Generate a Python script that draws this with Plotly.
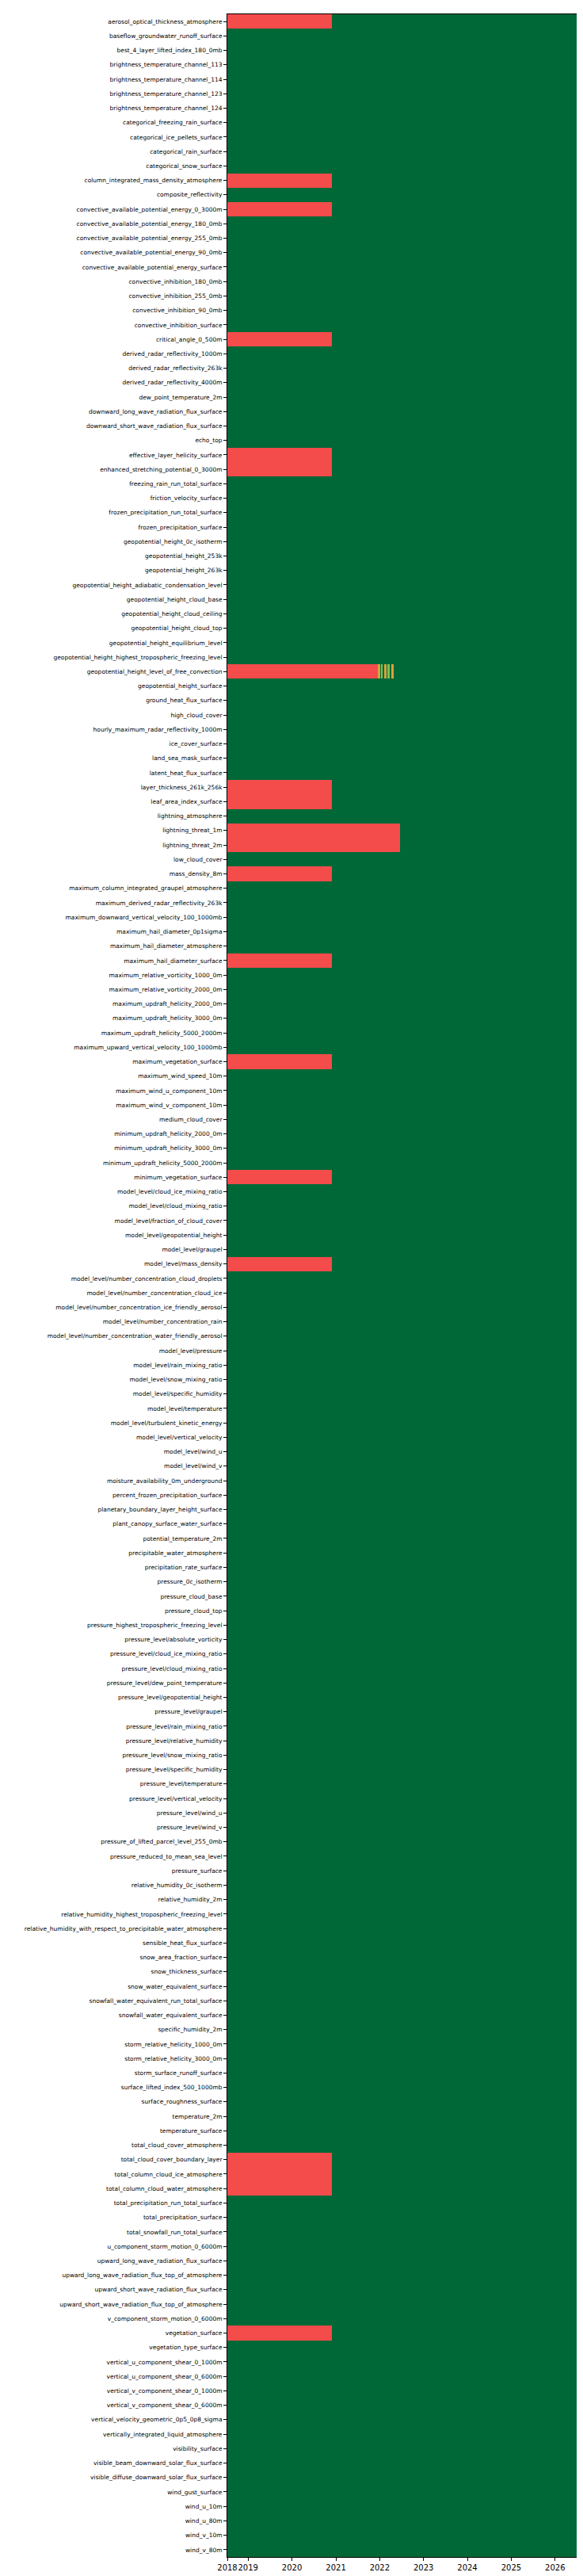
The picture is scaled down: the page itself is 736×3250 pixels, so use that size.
import pandas as pd
import plotly.graph_objects as go

variables = [
    "aerosol_optical_thickness_atmosphere",
    "baseflow_groundwater_runoff_surface",
    "best_4_layer_lifted_index_180_0mb",
    "brightness_temperature_channel_113",
    "brightness_temperature_channel_114",
    "brightness_temperature_channel_123",
    "brightness_temperature_channel_124",
    "categorical_freezing_rain_surface",
    "categorical_ice_pellets_surface",
    "categorical_rain_surface",
    "categorical_snow_surface",
    "column_integrated_mass_density_atmosphere",
    "composite_reflectivity",
    "convective_available_potential_energy_0_3000m",
    "convective_available_potential_energy_180_0mb",
    "convective_available_potential_energy_255_0mb",
    "convective_available_potential_energy_90_0mb",
    "convective_available_potential_energy_surface",
    "convective_inhibition_180_0mb",
    "convective_inhibition_255_0mb",
    "convective_inhibition_90_0mb",
    "convective_inhibition_surface",
    "critical_angle_0_500m",
    "derived_radar_reflectivity_1000m",
    "derived_radar_reflectivity_263k",
    "derived_radar_reflectivity_4000m",
    "dew_point_temperature_2m",
    "downward_long_wave_radiation_flux_surface",
    "downward_short_wave_radiation_flux_surface",
    "echo_top",
    "effective_layer_helicity_surface",
    "enhanced_stretching_potential_0_3000m",
    "freezing_rain_run_total_surface",
    "friction_velocity_surface",
    "frozen_precipitation_run_total_surface",
    "frozen_precipitation_surface",
    "geopotential_height_0c_isotherm",
    "geopotential_height_253k",
    "geopotential_height_263k",
    "geopotential_height_adiabatic_condensation_level",
    "geopotential_height_cloud_base",
    "geopotential_height_cloud_ceiling",
    "geopotential_height_cloud_top",
    "geopotential_height_equilibrium_level",
    "geopotential_height_highest_tropospheric_freezing_level",
    "geopotential_height_level_of_free_convection",
    "geopotential_height_surface",
    "ground_heat_flux_surface",
    "high_cloud_cover",
    "hourly_maximum_radar_reflectivity_1000m",
    "ice_cover_surface",
    "land_sea_mask_surface",
    "latent_heat_flux_surface",
    "layer_thickness_261k_256k",
    "leaf_area_index_surface",
    "lightning_atmosphere",
    "lightning_threat_1m",
    "lightning_threat_2m",
    "low_cloud_cover",
    "mass_density_8m",
    "maximum_column_integrated_graupel_atmosphere",
    "maximum_derived_radar_reflectivity_263k",
    "maximum_downward_vertical_velocity_100_1000mb",
    "maximum_hail_diameter_0p1sigma",
    "maximum_hail_diameter_atmosphere",
    "maximum_hail_diameter_surface",
    "maximum_relative_vorticity_1000_0m",
    "maximum_relative_vorticity_2000_0m",
    "maximum_updraft_helicity_2000_0m",
    "maximum_updraft_helicity_3000_0m",
    "maximum_updraft_helicity_5000_2000m",
    "maximum_upward_vertical_velocity_100_1000mb",
    "maximum_vegetation_surface",
    "maximum_wind_speed_10m",
    "maximum_wind_u_component_10m",
    "maximum_wind_v_component_10m",
    "medium_cloud_cover",
    "minimum_updraft_helicity_2000_0m",
    "minimum_updraft_helicity_3000_0m",
    "minimum_updraft_helicity_5000_2000m",
    "minimum_vegetation_surface",
    "model_level/cloud_ice_mixing_ratio",
    "model_level/cloud_mixing_ratio",
    "model_level/fraction_of_cloud_cover",
    "model_level/geopotential_height",
    "model_level/graupel",
    "model_level/mass_density",
    "model_level/number_concentration_cloud_droplets",
    "model_level/number_concentration_cloud_ice",
    "model_level/number_concentration_ice_friendly_aerosol",
    "model_level/number_concentration_rain",
    "model_level/number_concentration_water_friendly_aerosol",
    "model_level/pressure",
    "model_level/rain_mixing_ratio",
    "model_level/snow_mixing_ratio",
    "model_level/specific_humidity",
    "model_level/temperature",
    "model_level/turbulent_kinetic_energy",
    "model_level/vertical_velocity",
    "model_level/wind_u",
    "model_level/wind_v",
    "moisture_availability_0m_underground",
    "percent_frozen_precipitation_surface",
    "planetary_boundary_layer_height_surface",
    "plant_canopy_surface_water_surface",
    "potential_temperature_2m",
    "precipitable_water_atmosphere",
    "precipitation_rate_surface",
    "pressure_0c_isotherm",
    "pressure_cloud_base",
    "pressure_cloud_top",
    "pressure_highest_tropospheric_freezing_level",
    "pressure_level/absolute_vorticity",
    "pressure_level/cloud_ice_mixing_ratio",
    "pressure_level/cloud_mixing_ratio",
    "pressure_level/dew_point_temperature",
    "pressure_level/geopotential_height",
    "pressure_level/graupel",
    "pressure_level/rain_mixing_ratio",
    "pressure_level/relative_humidity",
    "pressure_level/snow_mixing_ratio",
    "pressure_level/specific_humidity",
    "pressure_level/temperature",
    "pressure_level/vertical_velocity",
    "pressure_level/wind_u",
    "pressure_level/wind_v",
    "pressure_of_lifted_parcel_level_255_0mb",
    "pressure_reduced_to_mean_sea_level",
    "pressure_surface",
    "relative_humidity_0c_isotherm",
    "relative_humidity_2m",
    "relative_humidity_highest_tropospheric_freezing_level",
    "relative_humidity_with_respect_to_precipitable_water_atmosphere",
    "sensible_heat_flux_surface",
    "snow_area_fraction_surface",
    "snow_thickness_surface",
    "snow_water_equivalent_surface",
    "snowfall_water_equivalent_run_total_surface",
    "snowfall_water_equivalent_surface",
    "specific_humidity_2m",
    "storm_relative_helicity_1000_0m",
    "storm_relative_helicity_3000_0m",
    "storm_surface_runoff_surface",
    "surface_lifted_index_500_1000mb",
    "surface_roughness_surface",
    "temperature_2m",
    "temperature_surface",
    "total_cloud_cover_atmosphere",
    "total_cloud_cover_boundary_layer",
    "total_column_cloud_ice_atmosphere",
    "total_column_cloud_water_atmosphere",
    "total_precipitation_run_total_surface",
    "total_precipitation_surface",
    "total_snowfall_run_total_surface",
    "u_component_storm_motion_0_6000m",
    "upward_long_wave_radiation_flux_surface",
    "upward_long_wave_radiation_flux_top_of_atmosphere",
    "upward_short_wave_radiation_flux_surface",
    "upward_short_wave_radiation_flux_top_of_atmosphere",
    "v_component_storm_motion_0_6000m",
    "vegetation_surface",
    "vegetation_type_surface",
    "vertical_u_component_shear_0_1000m",
    "vertical_u_component_shear_0_6000m",
    "vertical_v_component_shear_0_1000m",
    "vertical_v_component_shear_0_6000m",
    "vertical_velocity_geometric_0p5_0p8_sigma",
    "vertically_integrated_liquid_atmosphere",
    "visibility_surface",
    "visible_beam_downward_solar_flux_surface",
    "visible_diffuse_downward_solar_flux_surface",
    "wind_gust_surface",
    "wind_u_10m",
    "wind_u_80m",
    "wind_v_10m",
    "wind_v_80m",
]

# Period covered and status change dates
data_start = "2018-07-12"
data_end = "2026-08-08"
v4_start = "2020-12-02"

missing_before_v4 = [
    "aerosol_optical_thickness_atmosphere",
    "column_integrated_mass_density_atmosphere",
    "convective_available_potential_energy_0_3000m",
    "critical_angle_0_500m",
    "effective_layer_helicity_surface",
    "enhanced_stretching_potential_0_3000m",
    "layer_thickness_261k_256k",
    "leaf_area_index_surface",
    "mass_density_8m",
    "maximum_hail_diameter_surface",
    "maximum_vegetation_surface",
    "minimum_vegetation_surface",
    "model_level/mass_density",
    "total_cloud_cover_boundary_layer",
    "total_column_cloud_ice_atmosphere",
    "total_column_cloud_water_atmosphere",
    "vegetation_surface",
]

lightning_vars = ["lightning_threat_1m", "lightning_threat_2m"]
lightning_missing_until = "2022-06-18"

lfc_var = "geopotential_height_level_of_free_convection"
lfc_starts = ["2018-07-12", "2021-12-20", "2022-01-02", "2022-01-12", "2022-01-28",
              "2022-02-10", "2022-02-24", "2022-03-08", "2022-03-25", "2022-04-08",
              "2022-04-25", "2022-05-10"]
lfc_status = ["missing", "partial", "available", "partial_low", "available", "partial",
              "available", "partial_low", "available", "partial", "available", "available"]

colors = {
    "available": "#006837",
    "missing": "#f44b4b",
    "partial": "#d9a33a",
    "partial_low": "#7fbf55",
}

# Build segments per variable
segments = {k: {"y": [], "base": [], "dur": []} for k in colors}


def add(var, s, e, status):
    s_ts, e_ts = pd.Timestamp(s), pd.Timestamp(e)
    segments[status]["y"].append(var)
    segments[status]["base"].append(s_ts.strftime("%Y-%m-%d"))
    segments[status]["dur"].append((e_ts - s_ts).total_seconds() * 1000.0)


for v in variables:
    if v in missing_before_v4:
        add(v, data_start, v4_start, "missing")
        add(v, v4_start, data_end, "available")
    elif v in lightning_vars:
        add(v, data_start, lightning_missing_until, "missing")
        add(v, lightning_missing_until, data_end, "available")
    elif v == lfc_var:
        ends = lfc_starts[1:] + [data_end]
        for s, e, st in zip(lfc_starts, ends, lfc_status):
            add(v, s, e, st)
    else:
        add(v, data_start, data_end, "available")

fig = go.Figure()
for status in ["available", "missing", "partial", "partial_low"]:
    seg = segments[status]
    if not seg["y"]:
        continue
    fig.add_trace(go.Bar(
        y=seg["y"], x=seg["dur"], base=seg["base"], orientation="h",
        marker=dict(color=colors[status], line=dict(width=0)),
        width=1.0, showlegend=False, name=status,
    ))

tick_vals = ["2018-07-12", "2019-01-01", "2020-01-01", "2021-01-01", "2022-01-01",
             "2023-01-01", "2024-01-01", "2025-01-01", "2026-01-01"]
tick_text = ["2018", "2019", "2020", "2021", "2022", "2023", "2024", "2025", "2026"]

fig.update_layout(
    width=736, height=3250,
    margin=dict(l=279, r=10, t=10, b=32),
    paper_bgcolor="white", plot_bgcolor="white",
    barmode="overlay", bargap=0,
    font=dict(family="DejaVu Sans", color="black"),
)
fig.update_xaxes(
    type="date", range=[data_start, data_end],
    tickvals=tick_vals, ticktext=tick_text, tickangle=0,
    ticks="outside", ticklen=4, tickcolor="black", tickfont=dict(size=10),
    showline=True, linecolor="black", linewidth=1, mirror=True,
    showgrid=False, zeroline=False,
)
fig.update_yaxes(
    type="category", categoryorder="array", categoryarray=variables,
    range=[len(variables) - 0.5, -0.5],
    ticks="outside", ticklen=4, tickcolor="black", tickfont=dict(size=7.5),
    showline=True, linecolor="black", linewidth=1, mirror=True,
    showgrid=False, zeroline=False,
)

fig.write_html("out.html")
